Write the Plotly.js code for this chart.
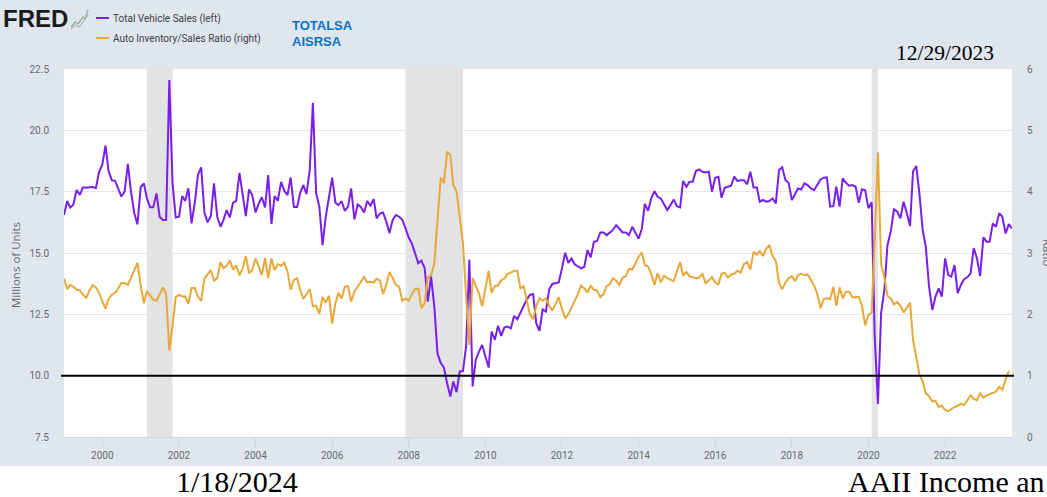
<!DOCTYPE html>
<html>
<head>
<meta charset="utf-8">
<script src="https://cdn.plot.ly/plotly-3.0.1.min.js"></script>
<style>
html,body{margin:0;padding:0;background:#fff;overflow:hidden}
#chart{width:1047px;height:497px;background:linear-gradient(#dfe6ee 0,#dfe6ee 466px,#fff 466px)}
</style>
</head>
<body>
<div id="chart"></div>
<script>
const totalVehicleSales = [
16.55,17.12,16.85,16.98,17.57,17.37,17.68,17.66,17.68,17.69,17.64,18.3,
18.6,19.38,18.34,17.96,17.95,17.6,17.3,17.5,18.63,17.5,16.62,16.17,
17.68,17.84,17.23,16.86,16.86,17.43,16.48,16.35,16.35,22.05,17.84,16.45,
16.48,17.32,17.12,17.64,16.21,17.03,18.18,18.49,16.65,16.25,16.51,17.84,
16.48,16.07,16.34,16.75,16.45,17.05,17.12,18.27,17.29,16.5,17.59,17.36,
16.65,17.02,17.27,16.86,18.18,16.18,17.32,17.13,17.9,17.54,17.36,18.08,
16.88,16.88,17.43,17.77,17.4,18.38,21.12,17.43,16.88,15.32,16.48,17.22,
18.07,17.05,16.95,17.12,16.72,16.88,17.63,16.37,16.98,16.88,16.65,17.12,
16.93,17.2,16.41,16.61,16.65,16.28,15.81,16.35,16.55,16.48,16.35,16.01,
15.63,15.37,15.0,14.58,14.69,14.38,13.02,14.04,12.82,10.91,10.51,10.34,
9.69,9.15,9.76,9.33,10.17,10.19,11.19,14.72,9.56,10.64,10.98,11.25,
10.78,10.33,11.8,11.46,12.03,11.62,11.97,12,11.93,12.43,12.3,12.6,
12.84,13.11,13.29,13.33,12.13,11.83,12.7,12.61,13.52,13.74,13.76,13.8,
14.37,15.01,14.6,14.77,14.54,14.44,14.37,14.44,15.12,14.82,15.46,15.49,
15.84,15.84,15.73,15.83,15.94,16.14,15.98,15.84,15.84,15.73,16.07,15.83,
15.58,16.0,17.0,16.72,17.22,17.52,17.29,17.22,17.0,16.75,16.95,17.18,
16.91,16.86,17.93,17.7,17.9,17.9,18.34,18.41,18.31,18.28,18.31,17.5,
18.07,18.11,17.25,17.66,17.7,17.74,18.11,17.93,17.97,17.97,17.8,18.31,
17.67,17.67,17.09,17.16,17.09,17.12,17.22,17.02,18.38,18.49,17.97,17.86,
17.16,17.43,17.63,17.59,17.84,17.77,17.63,17.56,17.77,18.0,18.07,18.08,
16.89,16.91,17.7,16.89,18.04,17.86,17.74,17.77,17.7,17.05,17.6,17.56,
16.82,17.07,11.6,8.85,12.54,13.5,15.33,15.87,16.78,16.69,16.41,17.09,
16.62,16.1,18.32,18.55,17.43,15.94,15.26,13.63,12.68,13.22,13.56,13.22,
14.78,14.1,14.04,14.51,13.36,13.7,13.93,14.01,14.17,15.2,14.78,14.06,
15.64,15.46,15.46,16.21,16.07,16.62,16.48,15.8,16.18,16.0];

const autoInventorySalesRatio = [
2.58,2.41,2.48,2.45,2.40,2.39,2.32,2.27,2.39,2.48,2.44,2.35,
2.22,2.09,2.25,2.32,2.35,2.42,2.51,2.51,2.48,2.60,2.71,2.84,
2.47,2.18,2.38,2.30,2.24,2.22,2.33,2.44,2.33,1.41,1.82,2.28,
2.32,2.29,2.29,2.17,2.43,2.43,2.29,2.22,2.58,2.66,2.72,2.55,
2.59,2.85,2.75,2.79,2.88,2.73,2.80,2.64,2.75,2.95,2.67,2.72,
2.91,2.78,2.64,2.92,2.59,2.91,2.72,2.82,2.79,2.84,2.70,2.40,
2.56,2.59,2.40,2.25,2.34,2.41,2.13,2.14,2.01,2.28,2.19,2.30,
1.85,2.18,2.35,2.26,2.45,2.46,2.21,2.37,2.45,2.53,2.61,2.52,
2.53,2.52,2.58,2.55,2.33,2.48,2.69,2.59,2.48,2.45,2.22,2.26,
2.22,2.33,2.41,2.42,2.10,2.18,2.60,2.64,2.83,3.54,4.23,4.14,
4.65,4.60,4.11,4.00,3.57,3.16,2.29,1.50,2.59,2.45,2.34,2.13,
2.42,2.71,2.35,2.46,2.47,2.56,2.58,2.66,2.68,2.71,2.71,2.42,
2.46,2.22,2.0,1.92,2.14,2.26,2.22,2.26,2.14,2.06,2.17,2.28,
2.09,1.93,2.0,2.10,2.22,2.33,2.47,2.42,2.36,2.46,2.40,2.39,
2.28,2.33,2.46,2.49,2.59,2.55,2.48,2.60,2.62,2.74,2.73,2.83,
2.94,3.01,2.80,2.78,2.66,2.48,2.67,2.52,2.63,2.59,2.57,2.54,
2.70,2.85,2.63,2.69,2.62,2.60,2.59,2.60,2.66,2.51,2.55,2.61,
2.52,2.49,2.66,2.68,2.60,2.65,2.66,2.71,2.68,2.82,2.85,2.73,
3.02,2.97,3.03,2.95,3.07,3.13,2.95,2.87,2.51,2.41,2.52,2.59,
2.62,2.54,2.64,2.66,2.64,2.65,2.57,2.47,2.33,2.10,2.25,2.26,
2.25,2.45,2.14,2.44,2.26,2.37,2.37,2.28,2.28,2.29,2.14,1.82,
1.99,2.03,3.2,4.64,2.81,2.60,2.30,2.26,2.16,2.20,2.14,2.03,
2.11,2.19,1.59,1.32,1.02,0.91,0.71,0.67,0.58,0.59,0.49,0.51,
0.44,0.42,0.46,0.49,0.51,0.54,0.52,0.60,0.68,0.62,0.60,0.71,
0.64,0.68,0.70,0.71,0.74,0.82,0.77,0.94,1.08];

const recessionStarts = ['2001-03-01','2007-12-01','2020-02-01'];
const recessionEnds   = ['2001-11-01','2009-06-01','2020-04-01'];
const leftTicks  = [7.5,10,12.5,15,17.5,20,22.5];
const rightTicks = [0,1,2,3,4,5,6];

const months = totalVehicleSales.map((_, i) => {
  const y = 1999 + Math.floor(i / 12), m = (i % 12) + 1;
  return y + '-' + String(m).padStart(2, '0') + '-01';
});

const L = 64, R = 1012, T = 69, B = 437;
const xp = px => (px - L) / (R - L);
const yp = py => (B - py) / (B - T);

const PURPLE = '#7a1fe8', ORANGE = '#e8a838', GREY = '#666b70';

const traces = [
  {x: months.slice(0, autoInventorySalesRatio.length), y: autoInventorySalesRatio, yaxis: 'y2', name: 'Auto Inventory/Sales Ratio (right)',
   type: 'scatter', mode: 'lines', line: {color: ORANGE, width: 2, shape: 'linear'}},
  {x: months, y: totalVehicleSales, name: 'Total Vehicle Sales (left)',
   type: 'scatter', mode: 'lines', line: {color: PURPLE, width: 2, shape: 'linear'}}
];

const shapes = recessionStarts.map((s, i) => ({
  type: 'rect', layer: 'between', xref: 'x', yref: 'paper', x0: s, x1: recessionEnds[i], y0: 0, y1: 1,
  fillcolor: '#e2e3e4', line: {width: 0}
}));
shapes.push({type: 'line', layer: 'above', xref: 'paper', yref: 'y', x0: xp(61), x1: xp(1014), y0: 10, y1: 10,
  line: {color: '#000000', width: 2}});
// legend swatches
[[18, PURPLE], [38, ORANGE]].forEach(([py, c]) => shapes.push({type: 'line', xref: 'paper', yref: 'paper', layer: 'above',
  x0: xp(96), x1: xp(109), y0: yp(py), y1: yp(py), line: {color: c, width: 2}}));
// FRED logo glyph
const path = pts => 'M' + pts.map(p => xp(p[0]) + ',' + yp(p[1])).join('L');
shapes.push({type: 'path', xref: 'paper', yref: 'paper', layer: 'above',
  path: path([[71,27],[75,22],[78,24],[83,17],[85,19],[88,10]]), line: {color: '#9fae9f', width: 1.4}});
shapes.push({type: 'path', xref: 'paper', yref: 'paper', layer: 'above',
  path: path([[71,29],[75,25],[79,27],[83,22],[88,15]]), line: {color: '#a9b3bc', width: 1.2}});

const ann = (px, py, text, size, opts) => Object.assign({
  xref: 'paper', yref: 'paper', x: xp(px), y: yp(py), text, showarrow: false,
  xanchor: 'left', yanchor: 'middle', font: {size, color: '#3d4247', family: 'Roboto, sans-serif'}
}, opts || {});
const serif = (size) => ({size, color: '#000', family: '"Liberation Serif", serif'});
const blue = {size: 13, color: '#0b73c6', family: '"Liberation Sans", sans-serif'};

const annotations = [
  ann(1, 19, '<b>FRED</b>', 24, {font: {size: 24, color: '#1c1c1c', family: '"Liberation Sans", sans-serif'}}),
  ann(111, 19, 'Total Vehicle Sales (left)', 10),
  ann(111, 39, 'Auto Inventory/Sales Ratio (right)', 10),
  ann(290, 26, '<b>TOTALSA</b>', 13, {font: blue}),
  ann(290, 42, '<b>AISRSA</b>', 13, {font: blue}),
  ann(894, 53, '12/29/2023', 21.5, {font: serif(21.5)}),
  ann(174, 481, '1/18/2024', 30, {font: serif(30)}),
  ann(846, 481, 'AAII Income an', 30, {font: serif(30)}),
  ann(15, 265, 'Millions of Units', 11.5, {xanchor: 'center', textangle: -90, font: {size: 11.5, color: GREY, family: '"Open Sans", sans-serif'}}),
  ann(1048, 252, 'Ratio', 11.5, {xanchor: 'center', textangle: 90, font: {size: 11.5, color: GREY, family: '"Open Sans", sans-serif'}})
];

const tickFont = {size: 10, color: GREY, family: 'Roboto, sans-serif'};

const layout = {
  width: 1047, height: 497,
  margin: {l: L, r: 1047 - R, t: T, b: 497 - B, pad: 0},
  paper_bgcolor: 'rgba(0,0,0,0)', plot_bgcolor: '#ffffff',
  showlegend: false,
  xaxis: {type: 'date', range: ['1999-01-01', '2023-10-01'], tick0: '2000-01-01', dtick: 'M24', tickformat: '%Y',
    showgrid: false, zeroline: false, showline: true, linecolor: '#ccd6eb', linewidth: 1,
    ticks: 'outside', ticklen: 9, tickcolor: '#ccd6eb', tickwidth: 1, tickfont: tickFont},
  yaxis: {range: [7.5, 22.5], tickvals: leftTicks, ticktext: leftTicks.map(v => v.toFixed(1)),
    showgrid: true, gridcolor: '#e6e6e6', gridwidth: 1, zeroline: false, showline: false,
    ticks: 'outside', ticklen: 12, tickcolor: 'rgba(0,0,0,0)', tickfont: tickFont},
  yaxis2: {range: [0, 6], tickvals: rightTicks, overlaying: 'y', side: 'right',
    showgrid: false, zeroline: false, showline: false,
    ticks: 'outside', ticklen: 12, tickcolor: 'rgba(0,0,0,0)', tickfont: tickFont},
  shapes, annotations
};

Plotly.newPlot('chart', traces, layout, {displayModeBar: false, staticPlot: true});
</script>
</body>
</html>
